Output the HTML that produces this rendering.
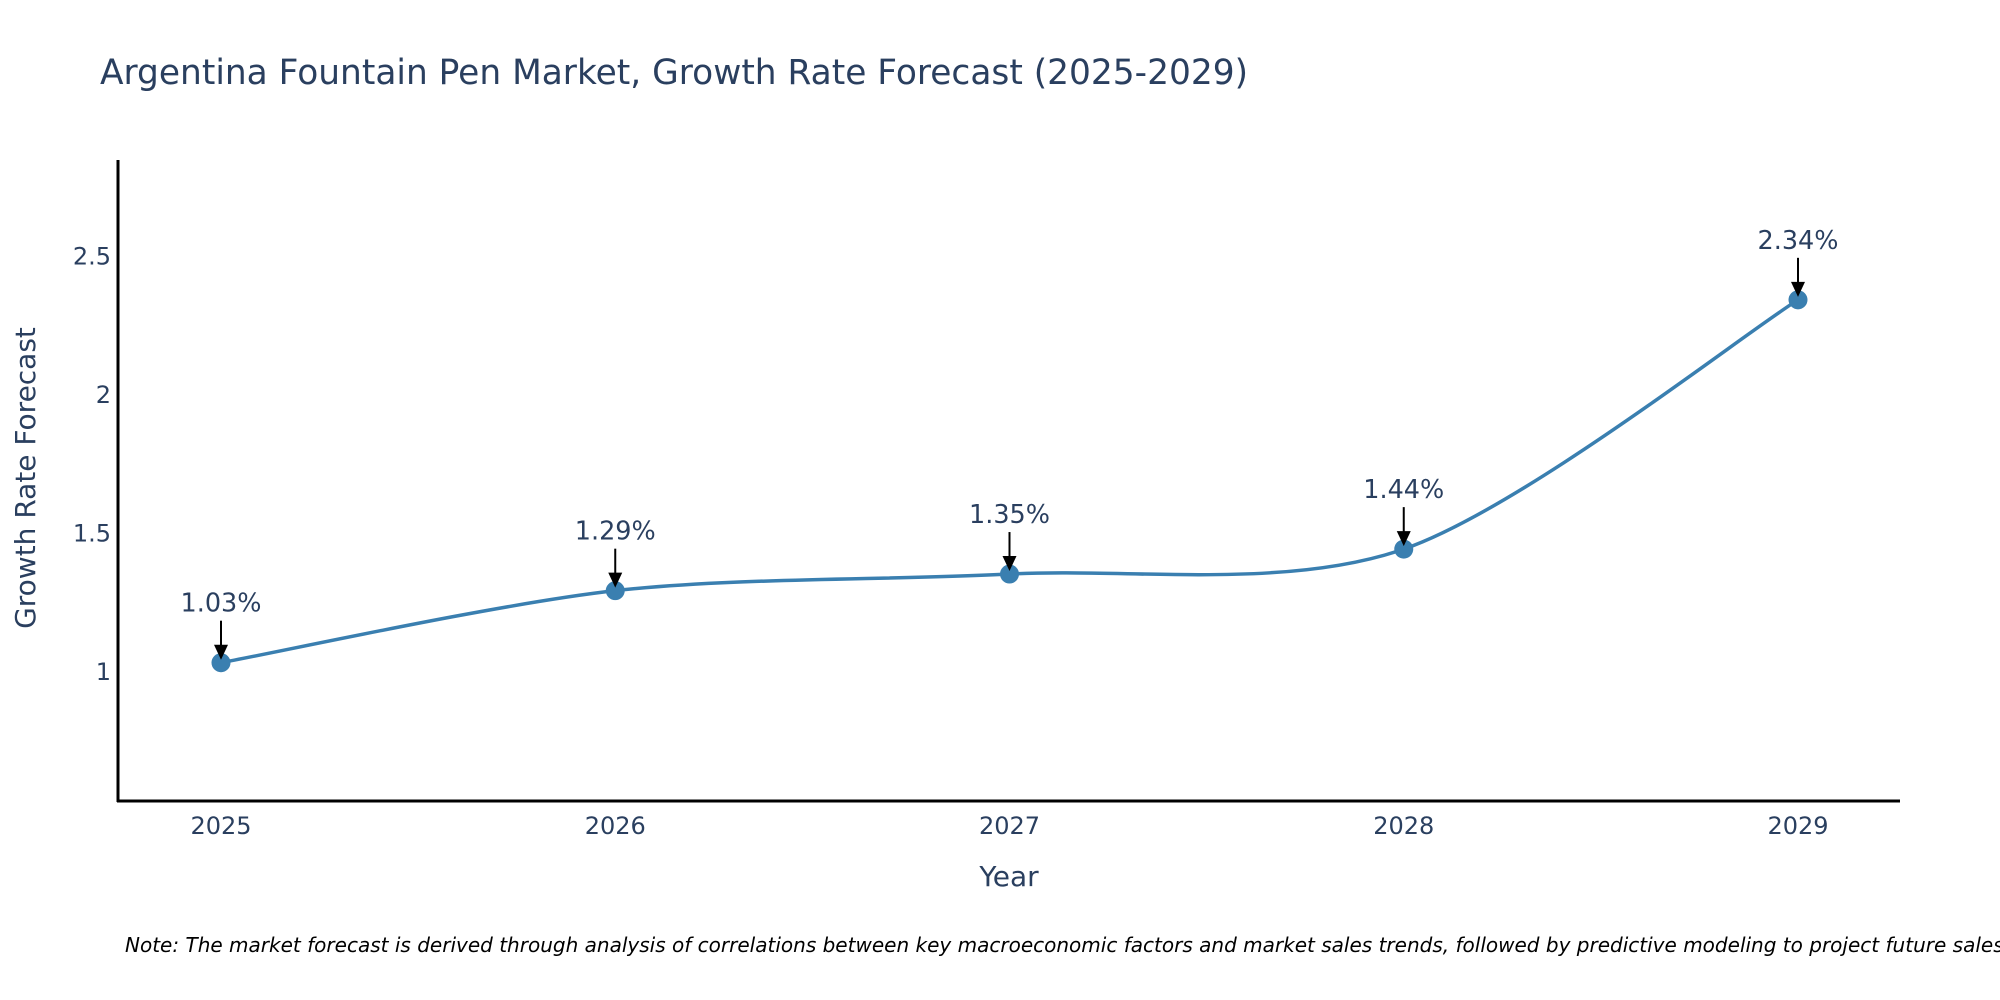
<!DOCTYPE html>
<html><head><meta charset="utf-8"><style>
html,body{margin:0;padding:0;background:#fff;}
svg{display:block;font-family:"DejaVu Sans","Liberation Sans",sans-serif;}
</style></head><body>
<svg id="chart" width="2000" height="1000" viewBox="0 0 2000 1000" xmlns="http://www.w3.org/2000/svg">
<text x="100" y="84" font-size="35" fill="#2a3f5f" textLength="1148" lengthAdjust="spacingAndGlyphs">Argentina Fountain Pen Market, Growth Rate Forecast (2025-2029)</text>
<g id="yticks"></g>
<g id="xticks"></g>
<line x1="118" y1="160" x2="118" y2="802" stroke="#000" stroke-width="3"/>
<line x1="117" y1="801" x2="1900" y2="801" stroke="#000" stroke-width="3"/>
<text transform="translate(35,478) rotate(-90)" text-anchor="middle" font-size="28" fill="#2a3f5f">Growth Rate Forecast</text>
<text x="1009" y="886" text-anchor="middle" font-size="28" fill="#2a3f5f">Year</text>
<g id="series"></g>
<text x="125" y="952" font-size="20" font-style="italic" fill="#000" textLength="1885" lengthAdjust="spacingAndGlyphs">Note: The market forecast is derived through analysis of correlations between key macroeconomic factors and market sales trends, followed by predictive modeling to project future sales.</text>
</svg>
<script>
const years = [2025, 2026, 2027, 2028, 2029];
const growth = [1.03, 1.29, 1.35, 1.44, 2.34];
const labels = ["1.03%", "1.29%", "1.35%", "1.44%", "2.34%"];
const yTickVals = [1, 1.5, 2, 2.5];
const yTickLabels = ["1", "1.5", "2", "2.5"];

const NS = "http://www.w3.org/2000/svg";
const X0 = 221, XSTEP = 394.25;
function xs(yr){ return X0 + (yr - years[0]) * XSTEP; }
function ys(v){ return 671 - (v - 1) * 277; }
function mk(tag, attrs, parent){ const e = document.createElementNS(NS, tag); for (const k in attrs) e.setAttribute(k, attrs[k]); parent.appendChild(e); return e; }

const yg = document.getElementById('yticks');
yTickVals.forEach((v, i) => {
  const t = mk('text', {x: 111, y: ys(v) + 9, 'text-anchor': 'end', 'font-size': 24, fill: '#2a3f5f'}, yg);
  
  
  t.textContent = yTickLabels[i];
});
const xg = document.getElementById('xticks');
years.forEach(yr => {
  const t = mk('text', {x: xs(yr), y: 834, 'text-anchor': 'middle', 'font-size': 24, fill: '#2a3f5f'}, xg);
  
  
  t.textContent = String(yr);
});

const sg = document.getElementById('series');
const pts = years.map((yr, i) => [xs(yr), ys(growth[i])]);
let d = `M${pts[0][0]},${pts[0][1]}`;
const s = 0.15;
for (let i = 0; i < pts.length - 1; i++) {
  const p0 = pts[Math.max(0, i - 1)], p1 = pts[i], p2 = pts[i + 1], p3 = pts[Math.min(pts.length - 1, i + 2)];
  const c1 = [p1[0] + (p2[0] - p0[0]) * s, p1[1] + (p2[1] - p0[1]) * s];
  const c2 = [p2[0] - (p3[0] - p1[0]) * s, p2[1] - (p3[1] - p1[1]) * s];
  d += ` C${c1[0]},${c1[1]} ${c2[0]},${c2[1]} ${p2[0]},${p2[1]}`;
}
const line = mk('path', {d: d, fill: 'none', stroke: '#3a7fb0', 'stroke-width': 3.5}, sg);


pts.forEach((p, i) => {
  const c = mk('circle', {cx: p[0], cy: p[1], r: 9.5, fill: '#3a7fb0'}, sg);
  
  
  const a = mk('line', {x1: p[0], y1: p[1] - 42, x2: p[0], y2: p[1] - 14, stroke: '#000', 'stroke-width': 2}, sg);
  
  
  const h = mk('polygon', {points: `${p[0]-7},${p[1]-18} ${p[0]+7},${p[1]-18} ${p[0]},${p[1]-3}`, fill: '#000'}, sg);
  
  
  const t = mk('text', {x: p[0], y: p[1] - 51, 'text-anchor': 'middle', 'font-size': 25.5, fill: '#2a3f5f'}, sg);
  
  
  t.textContent = labels[i];
});
</script>
</body></html>
